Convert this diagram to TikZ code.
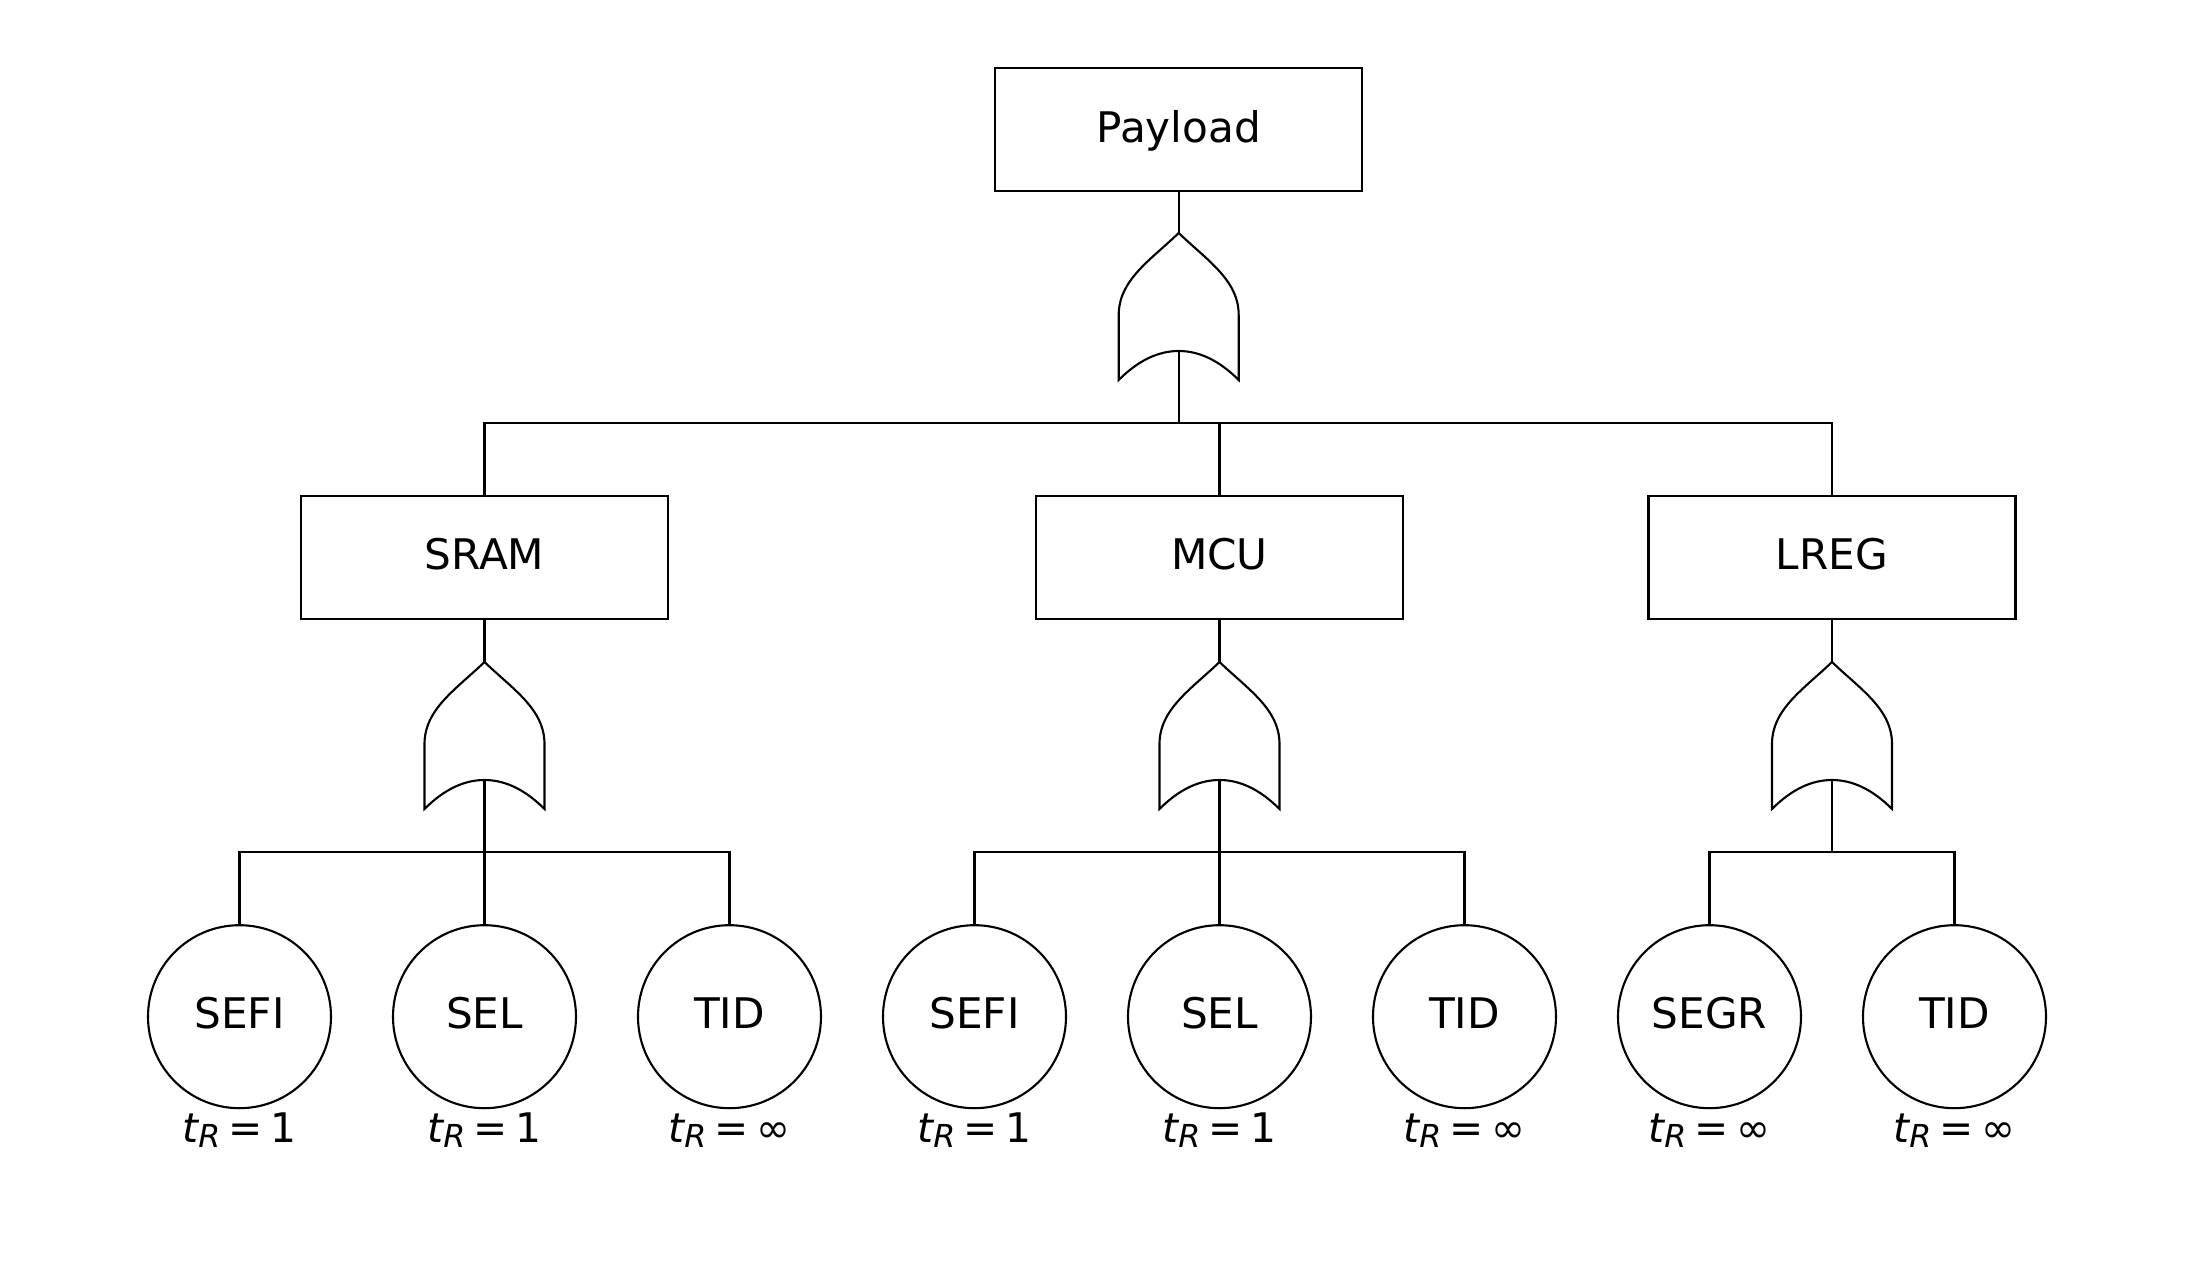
\documentclass[tikz,border=0pt]{standalone}
\usepackage{fontspec}
\setmainfont{DejaVu Sans}
\usepackage{tikz}

\tikzset{
    event/.style={draw, rectangle, minimum width=3.67cm, minimum height=1.23cm, inner sep=0pt, text depth=0.2em, font=\fontsize{12}{14}\selectfont},
    basic/.style={draw, circle, minimum size=1.83cm, inner sep=0pt, text depth=0.2em, font=\fontsize{12}{14}\selectfont},
    rate/.style={anchor=base, inner sep=0pt, font=\fontsize{11.6}{13}\selectfont},
    orgate/.pic={
        \draw (-0.6,0) -- (-0.6,0.65) .. controls (-0.6,1.0) and (-0.28,1.2) .. (0,1.47)
            .. controls (0.28,1.2) and (0.6,1.0) .. (0.6,0.65) -- (0.6,0)
            .. controls (0.4,0.2) and (0.2,0.29) .. (0,0.29)
            .. controls (-0.2,0.29) and (-0.4,0.2) .. cycle;
        \coordinate (-out) at (0,1.47);
        \coordinate (-in) at (0,0.29);
    }
}
\newcommand{\trep}[1]{{\itshape t}\raisebox{-0.14em}{\fontsize{9}{9}\selectfont\itshape R}\hspace{0.2em}=\hspace{0.2em}#1}

\begin{document}
\begin{tikzpicture}[line width=0.6pt]
            \useasboundingbox (0,0) rectangle (22.07,12.75);

            \pgfmathsetmacro{\topRow}{11.455}
            \pgfmathsetmacro{\midRow}{7.1725}
            \pgfmathsetmacro{\leafRow}{2.583}
            \pgfmathsetmacro{\rateRow}{1.33}

            \node[event] (payload) at (11.787, \topRow) {Payload};

            \node[event] (sram) at (4.845, \midRow) {SRAM};
            \node[event] (mcu) at (12.195, \midRow) {MCU};
            \node[event] (lreg) at (18.32, \midRow) {LREG};

            % basic events with their repair times
            \foreach \i/\lbl/\t in {1/SEFI/1, 2/SEL/1, 3/TID/∞, 4/SEFI/1, 5/SEL/1, 6/TID/∞, 7/SEGR/∞, 8/TID/∞}{
                    \node[basic] (e\i) at ({2.395+2.45*(\i-1)}, \leafRow) {\lbl};
                    \node[rate] (r\i) at ({2.395+2.45*(\i-1)}, \rateRow) {\trep{\t}};
                }

            % or gates
            \pic (g0) at (11.787, 8.95) {orgate};
            \pic (g1) at (4.845, 4.66) {orgate};
            \pic (g2) at (12.195, 4.66) {orgate};
            \pic (g3) at (18.32, 4.66) {orgate};

            % top level
            \draw (payload) -- (g0-out);
            \draw (g0-in) -- ++(0,-0.72) coordinate (b0);
            \foreach \c in {sram, mcu, lreg}
            \draw (b0) -| (\c);

            % second level
            \draw (sram) -- (g1-out);
            \draw (mcu) -- (g2-out);
            \draw (lreg) -- (g3-out);
            \foreach \g in {1, 2, 3}
            \draw (g\g-in) -- ++(0,-0.72) coordinate (b\g);

            \foreach \j in {1, 2, 3}
            \draw (b1) -| (e\j);
            \foreach \j in {4, 5, 6}
            \draw (b2) -| (e\j);
            \foreach \j in {7, 8}
            \draw (b3) -| (e\j);

        \end{tikzpicture}
\end{document}
